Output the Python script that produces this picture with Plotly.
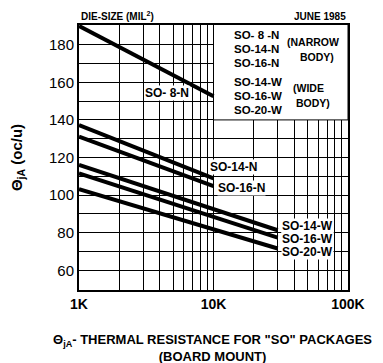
import math
import plotly.graph_objects as go

# Thermal resistance vs die size (log)
series_names = ["SO- 8-N", "SO-14-N", "SO-16-N", "SO-14-W", "SO-16-W", "SO-20-W"]
die_size = [[1000, 10000], [1000, 10000], [1000, 10000],
            [1000, 30000], [1000, 30000], [1000, 30000]]
theta_ja = [[190.0, 152.6], [137.3, 108.9], [131.1, 104.8],
            [116.0, 81.3], [111.6, 77.4], [103.2, 71.6]]

x_major = [1000, 10000, 100000]
x_major_text = ["1K", "10K", "100K"]
y_ticks = [60, 80, 100, 120, 140, 160, 180]

FONT = "Liberation Sans, Arial"


def f(size, bold=True):
    return dict(family=FONT, size=size, color="black", weight="bold" if bold else "normal")


fig = go.Figure()
for name, xs, ys in zip(series_names, die_size, theta_ja):
    fig.add_trace(go.Scatter(x=xs, y=ys, mode="lines", name=name,
                             line=dict(color="black", width=4), showlegend=False))

# series labels next to the lines (annotation x on log axis is log10)
labels = [
    ("SO- 8-N", 4500, 154.5, "center"),
    ("SO-14-N", 9300, 115, "left"),
    ("SO-16-N", 10700, 104, "left"),
    ("SO-14-W", 31500, 83.5, "left"),
    ("SO-16-W", 31500, 76.5, "left"),
    ("SO-20-W", 31500, 69.5, "left"),
]
for txt, x, y, al in labels:
    fig.add_annotation(x=math.log10(x), y=y, xref="x", yref="y", text=txt, showarrow=False,
                       xanchor=al, font=f(12), bgcolor="white", borderpad=0)

# white key box in the upper right
fig.add_shape(type="rect", xref="x", yref="y", x0=10000, x1=100000, y0=140, y1=191,
              fillcolor="white", line=dict(color="black", width=1), layer="between")

key_rows = [("SO- 8 -N", 185.2), ("SO-14-N", 177.7), ("SO-16-N", 170.3),
            ("SO-14-W", 160.2), ("SO-16-W", 152.7), ("SO-20-W", 145.3)]
for txt, y in key_rows:
    fig.add_annotation(x=math.log10(13700), y=y, xref="x", yref="y", xanchor="left",
                       text=txt, showarrow=False, font=f(11.5))
key_notes = [("(NARROW", 181.5, 0.975), ("BODY)", 173.5, 0.955),
             ("(WIDE", 157, 0.918), ("BODY)", 149, 0.94)]
for txt, y, xp in key_notes:
    fig.add_annotation(x=xp, y=y, xref="paper", yref="y", xanchor="right",
                       text=txt, showarrow=False, font=f(10.5))

# header texts
fig.add_annotation(x=0, y=1.003, xref="paper", yref="paper", xanchor="left", yanchor="bottom",
                   text="DIE-SIZE (MIL<sup>2</sup>)", showarrow=False, font=f(10))
fig.add_annotation(x=1, y=1.003, xref="paper", yref="paper", xanchor="right", yanchor="bottom",
                   text="JUNE 1985", showarrow=False, font=f(10))

# x title
fig.add_annotation(x=0.495, y=-0.22, xref="paper", yref="paper", xanchor="center", yanchor="middle",
                   text="Θ<sub>jA</sub>- THERMAL RESISTANCE FOR \"SO\" PACKAGES<br>(BOARD MOUNT)",
                   showarrow=False, font=f(13))

grid_vals = [m * d for d in (1000, 10000) for m in range(1, 10)] + [100000]
grid_text = [x_major_text[x_major.index(v)] if v in x_major else "" for v in grid_vals]

fig.update_xaxes(type="log", range=[3, 5], tickvals=grid_vals, ticktext=grid_text,
                 showgrid=True, gridcolor="black", gridwidth=1, ticks="",
                 showline=True, linecolor="black", linewidth=2, mirror=True,
                 tickfont=f(14), zeroline=False, automargin=False)
fig.update_yaxes(range=[49.5, 190.5], tickvals=y_ticks,
                 showgrid=True, gridcolor="black", gridwidth=1, ticks="",
                 minor=dict(dtick=10, showgrid=True, gridcolor="black", gridwidth=1),
                 showline=True, linecolor="black", linewidth=2, mirror=True,
                 tickfont=f(15, bold=False), zeroline=False, automargin=False,
                 title=dict(text="Θ<sub>jA</sub> (oc/u)", standoff=25, font=f(15)))

# page body has an 8px margin, so the figure is 8px smaller than the window
fig.update_layout(width=375, height=355, margin=dict(l=71, r=35, t=17, b=73),
                  paper_bgcolor="white", plot_bgcolor="white")

fig.write_html("out.html")
